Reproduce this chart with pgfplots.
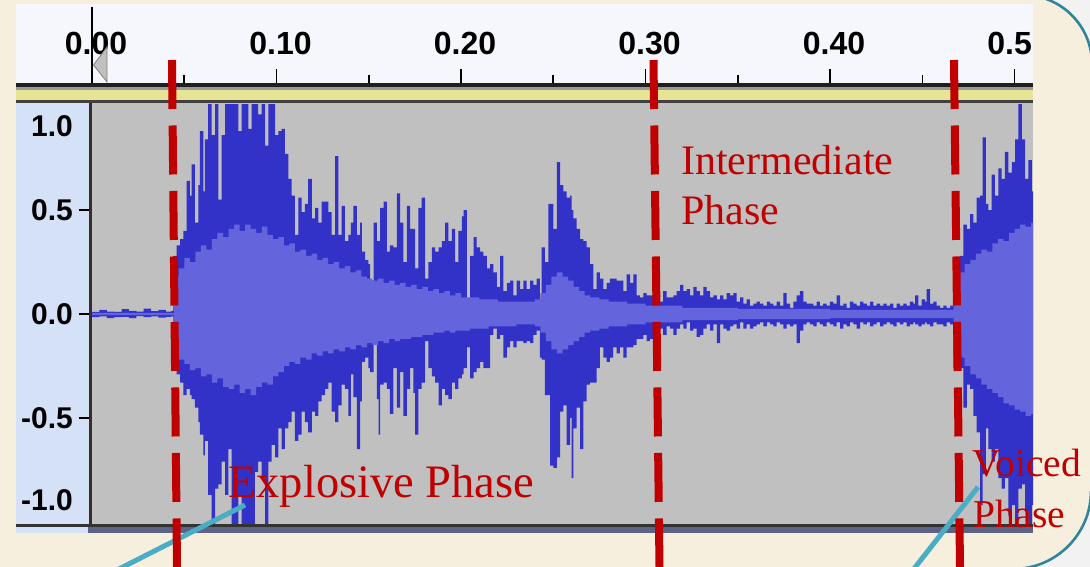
\documentclass[border=0pt]{standalone}
\usepackage{pgfplots}
\pgfplotsset{compat=1.18}
\usepackage{pgfplotstable}
\usepackage{fontspec}
\setmainfont{Liberation Serif}
\newfontfamily\rulerfont{Liberation Sans}
\definecolor{cream}{HTML}{F7EFDD}
\definecolor{outside}{HTML}{F2F2F2}
\definecolor{rulerwhite}{HTML}{F6F7FC}
\definecolor{leftpanel}{HTML}{D5E1F7}
\definecolor{plotgray}{HTML}{C0C0C0}
\definecolor{wavedark}{HTML}{3232C8}
\definecolor{wavelight}{HTML}{6464DC}
\definecolor{annred}{HTML}{C00000}
\definecolor{pointer}{HTML}{4BACC6}
\definecolor{arcteal}{HTML}{31849B}
\definecolor{slate}{HTML}{5C6384}
\definecolor{bandyellow}{HTML}{E8E496}
\definecolor{border}{HTML}{3A2A2A}

\pgfplotstableread{
t max min
0.0000 0.010 -0.015
0.0040 0.020 -0.012
0.0080 0.012 -0.020
0.0120 0.010 -0.015
0.0160 0.024 -0.014
0.0200 0.015 -0.020
0.0240 0.012 -0.010
0.0280 0.026 -0.015
0.0320 0.014 -0.012
0.0360 0.020 -0.018
0.0400 0.012 -0.014
0.0430 0.015 -0.012
0.0441 0.28 -0.27
0.0459 0.33 -0.29
0.0477 0.36 -0.33
0.0495 0.40 -0.39
0.0513 0.64 -0.36
0.0531 0.57 -0.39
0.0540 0.72 -0.41
0.0558 0.44 -0.45
0.0576 0.62 -0.52
0.0585 0.88 -0.58
0.0603 0.59 -0.68
0.0612 0.84 -0.61
0.0630 1.01 -0.87
0.0649 0.86 -1.01
0.0667 1.01 -0.84
0.0685 0.55 -0.82
0.0703 0.86 -0.71
0.0721 1.01 -0.87
0.0739 1.01 -0.65
0.0757 1.01 -1.01
0.0775 1.01 -1.01
0.0793 0.88 -0.87
0.0811 1.01 -1.01
0.0829 1.01 -1.01
0.0847 0.89 -1.01
0.0865 1.01 -1.01
0.0883 1.01 -0.76
0.0901 0.96 -0.71
0.0919 1.01 -0.79
0.0938 0.81 -1.01
0.0956 1.01 -0.71
0.0974 1.01 -0.63
0.0992 0.86 -0.69
0.1010 0.88 -0.55
0.1028 0.89 -0.65
0.1046 0.77 -0.55
0.1064 0.65 -0.52
0.1082 0.57 -0.47
0.1100 0.38 -0.61
0.1118 0.56 -0.58
0.1136 0.49 -0.47
0.1154 0.53 -0.52
0.1172 0.65 -0.57
0.1191 0.46 -0.47
0.1209 0.51 -0.49
0.1227 0.44 -0.42
0.1245 0.54 -0.39
0.1263 0.54 -0.36
0.1281 0.49 -0.33
0.1299 0.38 -0.47
0.1317 0.76 -0.52
0.1335 0.38 -0.44
0.1353 0.52 -0.34
0.1371 0.35 -0.36
0.1389 0.38 -0.49
0.1403 0.44 -0.29
0.1417 0.52 -0.40
0.1435 0.38 -0.65
0.1453 0.44 -0.42
0.1462 0.30 -0.23
0.1480 0.26 -0.21
0.1498 0.24 -0.26
0.1507 0.16 -0.28
0.1526 0.44 -0.12
0.1544 0.35 -0.41
0.1553 0.35 -0.58
0.1562 0.51 -0.34
0.1580 0.54 -0.33
0.1598 0.30 -0.36
0.1615 0.33 -0.48
0.1634 0.32 -0.26
0.1652 0.58 -0.45
0.1670 0.44 -0.28
0.1688 0.25 -0.49
0.1706 0.52 -0.36
0.1724 0.41 -0.26
0.1742 0.41 -0.38
0.1751 0.22 -0.58
0.1769 0.51 -0.36
0.1787 0.56 -0.33
0.1805 0.17 -0.13
0.1823 0.25 -0.26
0.1842 0.32 -0.30
0.1860 0.30 -0.33
0.1878 0.32 -0.44
0.1896 0.35 -0.36
0.1914 0.44 -0.39
0.1932 0.35 -0.41
0.1950 0.41 -0.33
0.1968 0.25 -0.36
0.1986 0.40 -0.31
0.2005 0.47 -0.29
0.2014 0.50 -0.26
0.2032 0.06 -0.16
0.2049 0.28 -0.31
0.2068 0.37 -0.28
0.2085 0.32 -0.26
0.2103 0.30 -0.23
0.2121 0.28 -0.26
0.2140 0.22 -0.26
0.2158 0.24 -0.10
0.2176 0.20 -0.07
0.2194 0.13 -0.12
0.2212 0.28 -0.10
0.2230 0.11 -0.21
0.2248 0.15 -0.16
0.2266 0.16 -0.13
0.2284 0.09 -0.16
0.2302 0.16 -0.13
0.2320 0.12 -0.13
0.2338 0.16 -0.14
0.2356 0.12 -0.13
0.2374 0.16 -0.14
0.2392 0.14 -0.10
0.2410 0.17 -0.08
0.2428 0.05 -0.21
0.2437 0.32 -0.22
0.2455 0.25 -0.39
0.2474 0.53 -0.39
0.2483 0.53 -0.73
0.2501 0.41 -0.74
0.2519 0.73 -0.69
0.2537 0.62 -0.47
0.2555 0.59 -0.44
0.2573 0.56 -0.63
0.2591 0.57 -0.50
0.2600 0.50 -0.79
0.2609 0.46 -0.55
0.2627 0.41 -0.45
0.2645 0.36 -0.65
0.2663 0.35 -0.42
0.2681 0.32 -0.34
0.2699 0.24 -0.33
0.2717 0.12 -0.33
0.2735 0.20 -0.26
0.2753 0.17 -0.16
0.2771 0.12 -0.21
0.2789 0.15 -0.23
0.2807 0.17 -0.21
0.2825 0.17 -0.16
0.2843 0.16 -0.19
0.2861 0.16 -0.16
0.2880 0.11 -0.21
0.2898 0.19 -0.16
0.2916 0.15 -0.16
0.2934 0.19 -0.15
0.2952 0.09 -0.12
0.2970 0.08 -0.12
0.2988 0.10 -0.10
0.3006 0.09 -0.13
0.3024 0.09 -0.12
0.3042 0.08 -0.10
0.3060 0.07 -0.08
0.3078 0.06 -0.07
0.3096 0.11 -0.10
0.3114 0.08 -0.06
0.3133 0.08 -0.07
0.3151 0.09 -0.10
0.3169 0.11 -0.07
0.3187 0.14 -0.05
0.3205 0.11 -0.07
0.3223 0.12 -0.04
0.3241 0.09 -0.08
0.3259 0.13 -0.07
0.3277 0.11 -0.11
0.3295 0.09 -0.10
0.3313 0.13 -0.07
0.3331 0.11 -0.05
0.3350 0.08 -0.08
0.3368 0.09 -0.05
0.3386 0.07 -0.14
0.3404 0.09 -0.05
0.3422 0.07 -0.07
0.3440 0.10 -0.08
0.3458 0.09 -0.06
0.3476 0.10 -0.05
0.3494 0.06 -0.07
0.3512 0.08 -0.04
0.3530 0.05 -0.07
0.3548 0.07 -0.05
0.3566 0.04 -0.07
0.3584 0.05 -0.06
0.3602 0.06 -0.05
0.3620 0.05 -0.04
0.3638 0.04 -0.06
0.3657 0.06 -0.04
0.3675 0.05 -0.05
0.3693 0.04 -0.06
0.3711 0.06 -0.04
0.3729 0.04 -0.05
0.3747 0.10 -0.07
0.3765 0.05 -0.05
0.3783 0.03 -0.06
0.3801 0.06 -0.05
0.3819 0.09 -0.14
0.3837 0.11 -0.08
0.3855 0.06 -0.05
0.3873 0.05 -0.04
0.3891 0.05 -0.05
0.3909 0.04 -0.06
0.3927 0.06 -0.04
0.3945 0.04 -0.05
0.3963 0.05 -0.06
0.3981 0.04 -0.04
0.3999 0.06 -0.05
0.4018 0.05 -0.06
0.4036 0.09 -0.04
0.4054 0.04 -0.07
0.4072 0.05 -0.05
0.4090 0.03 -0.06
0.4108 0.06 -0.04
0.4126 0.05 -0.05
0.4144 0.04 -0.07
0.4163 0.06 -0.04
0.4181 0.05 -0.05
0.4199 0.04 -0.04
0.4217 0.06 -0.06
0.4235 0.04 -0.05
0.4253 0.05 -0.04
0.4271 0.04 -0.06
0.4289 0.05 -0.05
0.4307 0.04 -0.04
0.4325 0.05 -0.05
0.4343 0.03 -0.06
0.4361 0.05 -0.04
0.4379 0.04 -0.05
0.4397 0.05 -0.04
0.4415 0.04 -0.06
0.4433 0.06 -0.05
0.4451 0.05 -0.04
0.4461 0.09 -0.05
0.4479 0.04 -0.06
0.4497 0.07 -0.05
0.4515 0.06 -0.04
0.4524 0.12 -0.05
0.4542 0.05 -0.06
0.4560 0.06 -0.04
0.4578 0.04 -0.05
0.4596 0.03 -0.05
0.4614 0.04 -0.06
0.4632 0.03 -0.04
0.4651 0.04 -0.05
0.4669 0.10 -0.26
0.4687 0.13 -0.23
0.4705 0.28 -0.26
0.4723 0.43 -0.45
0.4741 0.41 -0.34
0.4759 0.48 -0.36
0.4777 0.44 -0.49
0.4795 0.56 -0.57
0.4813 0.57 -0.92
0.4827 0.85 -0.77
0.4845 0.53 -0.55
0.4858 0.50 -0.65
0.4876 0.67 -0.71
0.4894 0.57 -0.65
0.4912 0.70 -0.79
0.4930 0.65 -0.84
0.4948 0.78 -0.79
0.4967 0.68 -0.97
0.4985 0.73 -0.92
0.5003 0.84 -1.01
0.5021 1.01 -0.84
0.5039 0.84 -0.82
0.5057 0.65 -0.95
0.5075 0.74 -1.01
0.5094 0.59 -0.92
0.5100 0.59 -0.92
}\envtable

\pgfplotstableread{
t up dn
0.0000 0.005 -0.005
0.0440 0.005 -0.005
0.0445 0.18 -0.17
0.0470 0.22 -0.22
0.0500 0.27 -0.24
0.0530 0.25 -0.27
0.0560 0.30 -0.26
0.0590 0.33 -0.30
0.0620 0.31 -0.29
0.0650 0.36 -0.33
0.0680 0.39 -0.31
0.0710 0.37 -0.35
0.0740 0.41 -0.36
0.0770 0.43 -0.34
0.0800 0.40 -0.38
0.0830 0.43 -0.36
0.0860 0.41 -0.39
0.0890 0.39 -0.35
0.0920 0.42 -0.33
0.0950 0.38 -0.34
0.0980 0.36 -0.30
0.1010 0.37 -0.28
0.1040 0.33 -0.25
0.1070 0.34 -0.23
0.1100 0.30 -0.24
0.1130 0.31 -0.21
0.1160 0.28 -0.22
0.1190 0.29 -0.19
0.1220 0.26 -0.20
0.1250 0.27 -0.18
0.1280 0.24 -0.19
0.1310 0.25 -0.17
0.1340 0.22 -0.18
0.1370 0.23 -0.16
0.1400 0.20 -0.17
0.1430 0.21 -0.15
0.1460 0.18 -0.16
0.1490 0.17 -0.14
0.1520 0.16 -0.15
0.1550 0.17 -0.13
0.1580 0.15 -0.14
0.1610 0.16 -0.12
0.1640 0.14 -0.13
0.1670 0.15 -0.12
0.1700 0.13 -0.12
0.1730 0.14 -0.11
0.1760 0.12 -0.11
0.1790 0.13 -0.10
0.1820 0.11 -0.10
0.1850 0.12 -0.09
0.1880 0.10 -0.09
0.1910 0.11 -0.08
0.1940 0.09 -0.09
0.1970 0.10 -0.08
0.2000 0.08 -0.08
0.2050 0.08 -0.07
0.2100 0.07 -0.07
0.2150 0.07 -0.06
0.2200 0.06 -0.06
0.2300 0.06 -0.05
0.2400 0.07 -0.06
0.2430 0.10 -0.09
0.2460 0.14 -0.13
0.2490 0.18 -0.17
0.2520 0.20 -0.19
0.2550 0.18 -0.17
0.2580 0.16 -0.15
0.2610 0.13 -0.13
0.2640 0.11 -0.11
0.2670 0.09 -0.09
0.2700 0.08 -0.08
0.2750 0.07 -0.07
0.2800 0.06 -0.06
0.2900 0.05 -0.05
0.3000 0.04 -0.04
0.3200 0.03 -0.03
0.3500 0.025 -0.025
0.4000 0.02 -0.02
0.4665 0.02 -0.02
0.4670 0.16 -0.15
0.4700 0.20 -0.21
0.4730 0.24 -0.25
0.4760 0.26 -0.29
0.4790 0.29 -0.31
0.4820 0.31 -0.34
0.4850 0.30 -0.36
0.4880 0.34 -0.38
0.4910 0.36 -0.40
0.4940 0.35 -0.43
0.4970 0.39 -0.44
0.5000 0.41 -0.46
0.5030 0.43 -0.47
0.5060 0.42 -0.49
0.5090 0.44 -0.48
0.5100 0.44 -0.48
}\rmstable

\begin{document}
\begin{tikzpicture}
\useasboundingbox (0pt,0pt) rectangle (1090pt,567pt);
\clip (0pt,0pt) rectangle (1090pt,567pt);
\fill[cream] (0pt,0pt) rectangle (1090pt,567pt);

% ruler background
\fill[rulerwhite] (16pt,484pt) rectangle (1033pt,563pt);

% ruler (time axis)
\begin{axis}[at={(92pt,484pt)}, anchor=south west,
  width=941pt, height=79pt, scale only axis,
  xmin=0, xmax=0.51, ymin=0, ymax=1,
  axis x line*=bottom, axis y line=none,
  x axis line style={draw=none},
  xtick={0,0.1,0.2,0.3,0.4,0.5},
  xticklabels={0.00,0.10,0.20,0.30,0.40,0.50},
  minor xtick={0.05,0.15,0.25,0.35,0.45},
  tick align=inside,
  major tick length=14pt, minor tick length=8pt,
  every tick/.style={black, line width=1.6pt},
  xticklabel style={font=\rulerfont\bfseries\fontsize{32}{38}\selectfont, anchor=center, yshift=39.5pt, xshift=4pt, inner sep=0pt},
  clip=false,
]
\addplot[draw=none] coordinates {(0,0.5)};
\end{axis}

% cover label overflow right of ruler
\fill[cream] (1033pt,470pt) rectangle (1090pt,567pt);

% playhead
\draw[black, line width=2.2pt] (92pt,484pt) -- (92pt,560pt);
\filldraw[fill=plotgray, draw=gray, line width=0.8pt] (107pt,520pt) -- (107pt,485pt) -- (93.5pt,502pt) -- cycle;

% separator bands
\fill[black!88] (16pt,480pt) rectangle (1033pt,484pt);
\fill[gray!80] (16pt,477pt) rectangle (1033pt,480pt);
\fill[bandyellow] (16pt,467pt) rectangle (1033pt,477pt);
\fill[black!75] (16pt,464pt) rectangle (1033pt,467pt);

% left panel
\fill[leftpanel] (16pt,34pt) rectangle (89pt,464pt);

% waveform axis
\begin{axis}[at={(92pt,42pt)}, anchor=south west,
  width=941pt, height=422pt, scale only axis,
  xmin=0, xmax=0.51, ymin=-1.015, ymax=1.015,
  axis background/.style={fill=plotgray},
  axis line style={draw=none},
  xtick=\empty,
  ytick={-0.5,0,0.5}, yticklabels={,,},
  ytick pos=left, tick align=outside, major tick length=13pt,
  every tick/.style={black, line width=1.8pt},
  clip=true,
]
\addplot[const plot, fill=wavedark, draw=none] table[x=t, y=max] {\envtable} \closedcycle;
\addplot[const plot, fill=wavedark, draw=none] table[x=t, y=min] {\envtable} \closedcycle;
\addplot[const plot, fill=wavelight, draw=none] table[x=t, y=up] {\rmstable} \closedcycle;
\addplot[const plot, fill=wavelight, draw=none] table[x=t, y=dn] {\rmstable} \closedcycle;
\end{axis}

% borders of the track
\fill[border] (88.5pt,42pt) rectangle (92pt,464pt);
\fill[black!80] (16pt,40pt) rectangle (1033pt,43pt);
\fill[slate] (88pt,34pt) rectangle (1033pt,40pt);

% amplitude labels
\begin{scope}[every node/.style={anchor=east, inner sep=0pt, font=\rulerfont\bfseries\fontsize{30}{36}\selectfont}]
\node at (73pt,441pt) {1.0};
\node at (73pt,357pt) {0.5};
\node at (73pt,253pt) {0.0};
\node at (73pt,149pt) {-0.5};
\node at (73pt,67pt) {-1.0};
\end{scope}

% rounded box corners
\fill[outside] (1023pt,572pt) arc[start angle=90, end angle=0, radius=69pt] -- (1092pt,572pt) -- cycle;
\draw[arcteal, line width=2.6pt] (1023pt,572pt) arc[start angle=90, end angle=0, radius=69pt];
\fill[outside] (1091pt,76pt) arc[start angle=0, end angle=-90, radius=78pt] -- (1091pt,-2pt) -- cycle;
\draw[arcteal, line width=2.6pt] (1091pt,76pt) arc[start angle=0, end angle=-90, radius=78pt];

% pointer lines
\draw[pointer, line width=5pt] (245pt,62pt) -- (119pt,-2pt);
\draw[pointer, line width=5pt] (978pt,80pt) -- (913pt,-3pt);

% phase boundaries
\begin{scope}[annred, line width=8pt, dash pattern=on 49pt off 16.5pt]
\draw (172pt,507pt) -- (177pt,0pt);
\draw (653.5pt,507pt) -- (659.5pt,0pt);
\draw (954pt,507pt) -- (960pt,0pt);
\end{scope}

% annotations
\begin{scope}[every node/.style={anchor=base west, inner sep=0pt, text=annred}]
\node at (228pt,69pt) {\fontsize{46.5}{55}\selectfont Explosive Phase};
\node at (681pt,392pt) {\fontsize{42}{50}\selectfont Intermediate};
\node at (681pt,342pt) {\fontsize{42}{50}\selectfont Phase};
\node at (972pt,90pt) {\fontsize{39.5}{47}\selectfont Voiced};
\node at (973pt,39pt) {\fontsize{39.5}{47}\selectfont Phase};
\end{scope}
\end{tikzpicture}
\end{document}
